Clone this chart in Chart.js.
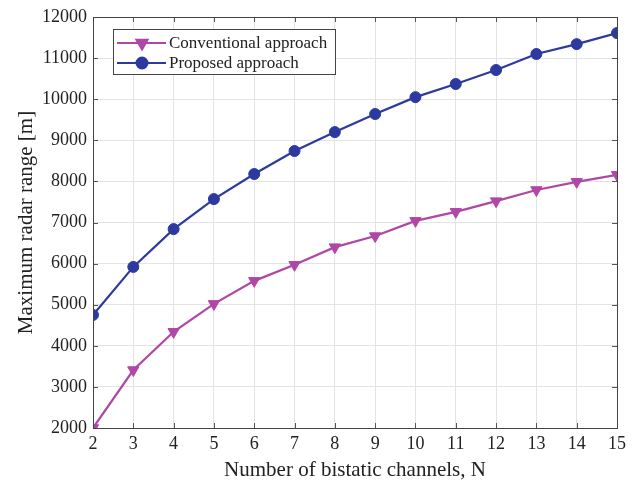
<!DOCTYPE html>
<html>
<head>
<meta charset="utf-8">
<script src="https://cdn.jsdelivr.net/npm/chart.js@4/dist/chart.umd.min.js"></script>
<style>
  html, body { margin: 0; padding: 0; background: #fff; }
  #wrap { width: 637px; height: 483px; }
</style>
</head>
<body>
<div id="wrap"><canvas id="c" width="637" height="483"></canvas></div>
<script>
// Number of bistatic channels
const channels = [2, 3, 4, 5, 6, 7, 8, 9, 10, 11, 12, 13, 14, 15];
// Maximum radar range [m]
const conventional = [2000, 3410, 4340, 5020, 5580, 5970, 6400, 6670, 7040, 7260, 7520, 7790, 7990, 8160];
const proposed = [4750, 5920, 6840, 7570, 8180, 8740, 9200, 9640, 10050, 10370, 10710, 11100, 11340, 11610];
const yTicks = [2000, 3000, 4000, 5000, 6000, 7000, 8000, 9000, 10000, 11000, 12000];
const seriesNames = ['Conventional approach', 'Proposed approach'];

const MAGENTA = '#b046a6';
const BLUE = '#2c3aa0';
const FONT = "'Liberation Serif', 'DejaVu Serif', serif";

const toPoints = vals => vals.map((v, i) => ({ x: channels[i], y: v }));

// Inward tick marks on all four sides plus the box frame
const boxTicks = {
  id: 'boxTicks',
  afterDatasetsDraw(chart) {
    const { ctx, chartArea: a, scales } = chart;
    ctx.save();
    ctx.strokeStyle = '#555';
    ctx.lineWidth = 1;
    ctx.beginPath();
    const len = 5;
    channels.forEach(n => {
      const x = Math.round(scales.x.getPixelForValue(n)) + 0.5;
      ctx.moveTo(x, a.bottom); ctx.lineTo(x, a.bottom - len);
      ctx.moveTo(x, a.top); ctx.lineTo(x, a.top + len);
    });
    yTicks.forEach(v => {
      const y = Math.round(scales.y.getPixelForValue(v)) + 0.5;
      ctx.moveTo(a.left, y); ctx.lineTo(a.left + len, y);
      ctx.moveTo(a.right, y); ctx.lineTo(a.right - len, y);
    });
    ctx.stroke();
    ctx.strokeStyle = '#444';
    ctx.strokeRect(Math.round(a.left) + 0.5, Math.round(a.top) + 0.5,
      Math.round(a.right - a.left), Math.round(a.bottom - a.top));
    ctx.restore();
  }
};

// Framed legend inside the upper-left corner of the plot
const insetLegend = {
  id: 'insetLegend',
  afterDraw(chart) {
    const { ctx, chartArea: a } = chart;
    const x0 = a.left + 20, y0 = a.top + 12, w = 222, h = 45;
    ctx.save();
    ctx.fillStyle = '#fff';
    ctx.fillRect(x0, y0, w, h);
    ctx.strokeStyle = '#444';
    ctx.lineWidth = 1;
    ctx.strokeRect(x0 + 0.5, y0 + 0.5, w, h);
    const rows = [
      { label: seriesNames[0], color: MAGENTA, style: 'triangle', rot: 180, r: 6.5 },
      { label: seriesNames[1], color: BLUE, style: 'circle', rot: 0, r: 5.5 }
    ];
    rows.forEach((r, i) => {
      const cy = y0 + 14 + i * 20;
      ctx.strokeStyle = r.color;
      ctx.lineWidth = 2;
      ctx.beginPath();
      ctx.moveTo(x0 + 4, cy); ctx.lineTo(x0 + 53, cy);
      ctx.stroke();
      ctx.fillStyle = r.color;
      Chart.helpers.drawPoint(ctx, { pointStyle: r.style, radius: r.r, rotation: r.rot, borderWidth: 1 }, x0 + 29, cy);
      ctx.fill();
      ctx.fillStyle = '#222';
      ctx.font = '17px ' + FONT;
      ctx.textBaseline = 'middle';
      ctx.fillText(r.label, x0 + 56, cy + 1);
    });
    ctx.restore();
  }
};

new Chart(document.getElementById('c'), {
  type: 'line',
  data: {
    datasets: [
      {
        label: seriesNames[0],
        data: toPoints(conventional),
        borderColor: MAGENTA,
        backgroundColor: MAGENTA,
        borderWidth: 2.2,
        pointStyle: 'triangle',
        pointRotation: 180,
        pointRadius: 6.5,
        pointBorderWidth: 1,
        tension: 0
      },
      {
        label: seriesNames[1],
        data: toPoints(proposed),
        borderColor: BLUE,
        backgroundColor: BLUE,
        borderWidth: 2.2,
        pointStyle: 'circle',
        pointRadius: 5.5,
        pointBorderWidth: 1,
        tension: 0
      }
    ]
  },
  options: {
    responsive: false,
    animation: false,
    layout: { padding: { left: 10, right: 20, top: 17, bottom: 0 } },
    plugins: { legend: { display: false }, tooltip: { enabled: false } },
    elements: { point: { hoverRadius: 6 } },
    scales: {
      x: {
        type: 'linear',
        min: 2, max: 15,
        afterBuildTicks: s => { s.ticks = channels.map(v => ({ value: v })); },
        afterFit: s => { s.height = 55; },
        grid: { color: '#e3e3e3', drawTicks: false },
        border: { display: false },
        ticks: { color: '#222', font: { family: FONT, size: 18 }, padding: 5, maxRotation: 0 },
        title: { display: true, text: 'Number of bistatic channels, N', color: '#222',
                 font: { family: FONT, size: 21 }, padding: { top: 0, bottom: 0 } }
      },
      y: {
        min: 2000, max: 12000,
        afterBuildTicks: s => { s.ticks = yTicks.map(v => ({ value: v })); },
        afterFit: s => { s.width = 83; },
        grid: { color: '#e3e3e3', drawTicks: false },
        border: { display: false },
        ticks: { color: '#222', font: { family: FONT, size: 18 }, padding: 6,
                 callback: v => String(v) },
        title: { display: true, text: 'Maximum radar range [m]', color: '#222',
                 font: { family: FONT, size: 21 }, padding: { bottom: 4 } }
      }
    }
  },
  plugins: [boxTicks, insetLegend]
});
</script>
</body>
</html>
